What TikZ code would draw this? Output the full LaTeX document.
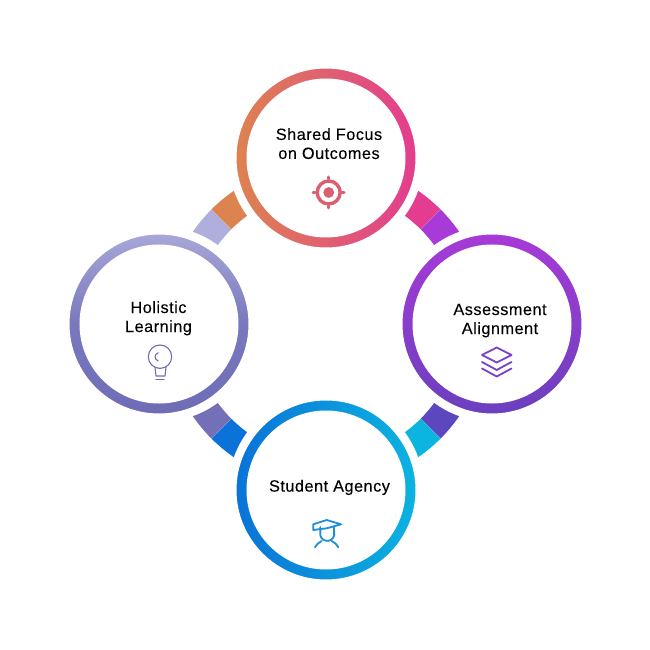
\documentclass[tikz,border=0pt]{standalone}
\usepackage{fontspec}
\setmainfont[LetterSpace=3,FakeBold=0.12]{Liberation Sans}
\definecolor{orA}{HTML}{DD8350}
\definecolor{pkA}{HTML}{E33C90}
\definecolor{puA}{HTML}{A83AD8}
\definecolor{puB}{HTML}{6A40BE}
\definecolor{inA}{HTML}{5C47BE}
\definecolor{cyA}{HTML}{0CB4E0}
\definecolor{blA}{HTML}{0A72D8}
\definecolor{laA}{HTML}{B0AEDD}
\definecolor{laB}{HTML}{A9A8D8}
\definecolor{laM}{HTML}{7A78BD}
\definecolor{laC}{HTML}{6E6CB5}
\definecolor{laD}{HTML}{7470B8}
\definecolor{tgtcol}{HTML}{DB5F70}
\definecolor{laycol}{HTML}{7C3FC8}
\definecolor{capcol}{HTML}{1C8FD8}
\tikzset{
  x=1pt,y=1pt,
  label text/.style={font=\fontsize{16.3}{19}\selectfont,align=center,text=black,inner sep=0pt},
  icon line/.style={line width=1.2pt,line cap=round,line join=round},
  ring hole/.style={fill=white},
}
\newcommand{\bandpart}[6]{%
  % #1 colour, #2 boundary angle, #3 outer end angle, #4 inner end angle, #5 start on end-circle, #6 end on end-circle
  \fill[#1] (#2:162pt) arc[start angle=#2,end angle=#3,radius=162pt]
     arc[start angle=#5,end angle=#6,radius=98pt]
     arc[start angle=#4,end angle=#2,radius=134pt] -- cycle;}
\newcommand{\gradring}[2]{%
  \shade[#2] (#1) circle (92pt);
  \draw[white,line width=5pt] (#1) circle (92pt);
  \fill[ring hole] (#1) circle (79.5pt);}
\begin{document}
\begin{tikzpicture}
\useasboundingbox (-326,-326) rectangle (324,324);
% centre of the diagram is the origin: pixel (326,324)
\coordinate (ctop) at (0,166);
\coordinate (cright) at (166,0);
\coordinate (cbottom) at (0,-166);
\coordinate (cleft) at (-167,0);
% rings
\gradring{ctop}{left color=orA,right color=pkA}
\gradring{cright}{top color=puA,bottom color=puB}
\gradring{cbottom}{left color=blA,right color=cyA}
\gradring{cleft}{top color=laB,bottom color=laC,middle color=laM}
% bands: top right
\bandpart{pkA}{45}{55.3}{53.8}{-19.6}{-36.2}
\bandpart{puA}{45}{34.7}{36.2}{109.6}{126.2}
% bands: bottom right
\bandpart{inA}{-45}{-34.7}{-36.2}{-109.6}{-126.2}
\bandpart{cyA}{-45}{-55.3}{-53.8}{19.6}{36.2}
% bands: bottom left
\bandpart{blA}{-135}{-124.7}{-126.2}{160.4}{143.8}
\bandpart{laD}{-135}{-145.3}{-143.8}{-70.4}{-53.8}
% bands: top left
\bandpart{laA}{135}{145.3}{143.8}{70.4}{53.8}
\bandpart{orA}{135}{124.7}{126.2}{-160.4}{-143.8}
% labels
\node[label text] (ttop) at (3,180.4) {Shared Focus\\on Outcomes};
\node[label text] (tright) at (174,3.4) {Assessment\\Alignment};
\node[label text] (tbottom) at (3.5,-163.4) {Student Agency};
\node[label text] (tleft) at (-167.5,5.7) {Holistic\\Learning};
% target icon
\coordinate (itarget) at (2.7,131.5);
\draw[tgtcol,line width=3.4pt] (itarget) circle (11.5pt);
\fill[tgtcol] (itarget) circle (5.4pt);
\draw[tgtcol,line width=3pt,line cap=round] (2.7,145) -- (2.7,147) (2.7,118) -- (2.7,116) (-10.8,131.5) -- (-12.8,131.5) (16.2,131.5) -- (18.2,131.5);
% bulb icon
\begin{scope}[laC,icon line,line width=1.1pt]
\draw (-166,-32.7) circle (11.7pt);
\draw (-171,-43.3) -- (-170,-52) -- (-161,-52) -- (-160,-43.3);
\draw (-170,-55.3) -- (-162,-55.3);
\draw (-167.7,-28.7) .. controls (-172,-30.5) and (-172,-35.2) .. (-167.7,-37);
\end{scope}
% layers icon
\begin{scope}[laycol,icon line,line width=1.8pt]
\draw (156,-31) -- (170.7,-23.5) -- (185.5,-31) -- (170.7,-38.5) -- cycle;
\draw (156,-38) -- (170.7,-46) -- (185.5,-38);
\draw (156,-44.5) -- (170.7,-52.5) -- (185.5,-44.5);
\end{scope}
% graduate icon
\begin{scope}[capcol,icon line,line width=1.8pt]
\draw (-12.7,-206) -- (-12.7,-200.3) -- (0.7,-196) -- (15,-200.3) -- (0.7,-204.3) -- cycle;
\draw (-5.8,-203) -- (-5.6,-208) arc[start angle=165,end angle=375,radius=7.1pt] -- (8,-203);
\draw (-11,-223.3) .. controls (-9,-220) and (-7,-218.2) .. (-4.3,-217);
\draw (12.3,-223.3) .. controls (10.3,-220) and (8.3,-218.2) .. (5.7,-217);
\end{scope}
\end{tikzpicture}
\end{document}
